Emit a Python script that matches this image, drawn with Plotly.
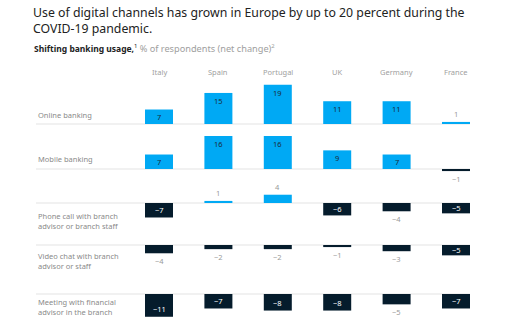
import plotly.graph_objects as go

countries = ["Italy", "Spain", "Portugal", "UK", "Germany", "France"]
row_labels = [
    "Online banking",
    "Mobile banking",
    "Phone call with branch<br>advisor or branch staff",
    "Video chat with branch<br>advisor or staff",
    "Meeting with financial<br>advisor in the branch",
]
online = [7, 15, 19, 11, 11, 1]
mobile = [7, 16, 16, 9, 7, -1]
phone = [-7, 1, 4, -6, -4, -5]
video = [-4, -2, -2, -1, -3, -5]
meeting = [-11, -7, -8, -8, -5, -7]
rows = [online, mobile, phone, video, meeting]
outside_labels = {(4, "Germany")}

W, H = 516, 323
BLUE = "#00A9F4"
NAVY = "#051C2C"
GRAY = "#9a9a9a"
FONT = "Noto Sans"

scale = 2.07                      # px per percentage point
baselines = [124, 169, 203, 245, 294]   # px from top
label_y = [[115], [159], [216, 225], [256, 265], [302, 312]]
line_x0, line_x1 = 36, 470
col0, col_step = 159, 59.4
bar_w = 28
label_inset = 3.8                 # units from bar end to inside label centre

def py(y):
    return 1 - y / H

fig = go.Figure()
ann = []
for i, vals in enumerate(rows):
    yname = "y" if i == 0 else f"y{i+1}"
    colors = [BLUE if v > 0 else NAVY for v in vals]
    fig.add_trace(go.Bar(
        x=countries, y=vals, yaxis=yname, xaxis="x",
        marker=dict(color=colors, line=dict(width=0)),
        width=bar_w / col_step,
        cliponaxis=False, showlegend=False, hoverinfo="skip",
    ))
    for c, v in zip(countries, vals):
        txt = str(v).replace("-", "\u2212")
        inside = abs(v) >= 5 and (i, c) not in outside_labels
        sgn = 1 if v > 0 else -1
        if inside:
            col = "#1a2b3a" if v > 0 else "white"
            yv = v - sgn * min(abs(v) / 2, label_inset)
            ann.append(dict(text=txt, xref="x", yref=yname, x=c, y=yv,
                            xanchor="center", yanchor="middle",
                            showarrow=False,
                            font=dict(family=FONT, size=7.5, color=col)))
        else:
            ann.append(dict(text=txt, xref="x", yref=yname, x=c, y=v,
                            xanchor="center",
                            yanchor="bottom" if v > 0 else "top",
                            yshift=sgn, showarrow=False,
                            font=dict(family=FONT, size=7.5, color=GRAY)))

layout = dict(
    width=W, height=H, margin=dict(l=0, r=0, t=0, b=0),
    paper_bgcolor="white", plot_bgcolor="rgba(0,0,0,0)",
    showlegend=False,
    xaxis=dict(type="category", categoryorder="array", categoryarray=countries,
               range=[-col0 / col_step, (W - col0) / col_step],
               domain=[0, 1], visible=False, fixedrange=True),
)
for i, b in enumerate(baselines):
    key = "yaxis" if i == 0 else f"yaxis{i+1}"
    ax = dict(domain=[0, 1], range=[-(H - b) / scale, b / scale],
              visible=False, fixedrange=True, anchor="x")
    if i > 0:
        ax["overlaying"] = "y"
    layout[key] = ax
fig.update_layout(**layout)

shapes = []
for i, b in enumerate(baselines):
    shapes.append(dict(type="line", xref="paper", yref="paper",
                       x0=line_x0 / W, x1=line_x1 / W, y0=py(b), y1=py(b),
                       line=dict(color="#e3e3e3", width=1), layer="below"))
fig.update_layout(shapes=shapes)

ann.append(dict(text="Use of digital channels has grown in Europe by up to 20 percent during the<br>COVID-19 pandemic.",
                xref="paper", yref="paper", x=31 / W, y=py(2), xanchor="left", yanchor="top",
                align="left", showarrow=False,
                font=dict(family=FONT, size=12.3, color="#222222")))
ann.append(dict(text="<b>Shifting banking usage,</b><sup>1</sup> <span style='color:#a0a0a0;font-size:9.2px'>% of respondents (net change)</span><sup><span style='color:#a0a0a0'>2</span></sup>",
                xref="paper", yref="paper", x=32 / W, y=py(49), xanchor="left", yanchor="middle",
                align="left", showarrow=False,
                font=dict(family=FONT, size=8.5, color="#222222")))
for j, c in enumerate(countries):
    ann.append(dict(text=c, xref="x", yref="paper",
                    x=c, y=py(72), xanchor="center", yanchor="middle",
                    showarrow=False, font=dict(family=FONT, size=7.5, color="#a0a0a0")))
for lab, ys in zip(row_labels, label_y):
    ymid = sum(ys) / len(ys)
    ann.append(dict(text=lab, xref="paper", yref="paper",
                    x=line_x0 / W, y=py(ymid), xanchor="left", yanchor="middle",
                    align="left", showarrow=False,
                    font=dict(family=FONT, size=7.5, color="#8a8a8a")))
fig.update_layout(annotations=ann)

fig.write_html("out.html")
